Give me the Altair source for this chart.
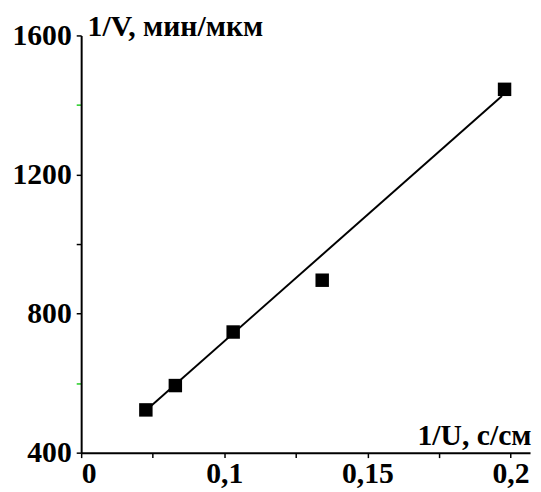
import altair as alt
import pandas as pd

# Data
inv_u = [0.0726, 0.0829, 0.1031, 0.1342, 0.1979]   # 1/U, s/cm
inv_v = [523, 593, 747, 896, 1445]                  # 1/V, min/um
fit_u = [0.0726, 0.197]
fit_v = [521, 1426]
x_ticks = [0.05, 0.075, 0.1, 0.125, 0.15, 0.175, 0.2]
y_ticks = [400, 600, 800, 1000, 1200, 1400, 1600]

pts = pd.DataFrame({"u": inv_u, "v": inv_v})
fit = pd.DataFrame({"u": fit_u, "v": fit_v})

FONT = "Liberation Serif"

xscale = alt.Scale(domain=[0.05, 0.2068], nice=False, zero=False)
yscale = alt.Scale(domain=[400, 1600], nice=False, zero=False)

xaxis = alt.Axis(
    values=x_ticks,
    labelExpr="round(datum.value*1000) == 50 ? '0' : (round(datum.value*1000) % 50 == 0 ? replace(format(datum.value, '.2~f'), '.', ',') : '')",
    labelOverlap=False,
    labelFont=FONT, labelFontSize=30, labelFontWeight="bold", labelColor="black",
    labelPadding=1,
    tickSize=5, tickColor="black", tickWidth=1.5,
    domainColor="black", domainWidth=2,
    grid=False,
    title="1/U, с/см",
    titleFont=FONT, titleFontSize=30, titleFontWeight="bold", titleColor="black",
    titleAngle=0, titleAlign="right", titleBaseline="alphabetic",
    titleX=455, titleY=-8,
)

yaxis = alt.Axis(
    values=y_ticks,
    labelExpr="datum.value % 400 == 0 ? format(datum.value, 'd') : ''",
    labelOverlap=False,
    labelFont=FONT, labelFontSize=30, labelFontWeight="bold", labelColor="black",
    labelPadding=5,
    tickSize=5, tickWidth=1.5,
    tickColor={"condition": {"test": "datum.value == 600 || datum.value == 1400", "value": "#22cc22"}, "value": "black"},
    domainColor="black", domainWidth=2,
    grid=False,
    title="1/V, мин/мкм",
    titleFont=FONT, titleFontSize=30, titleFontWeight="bold", titleColor="black",
    titleAngle=0, titleAlign="left", titleBaseline="alphabetic",
    titleX=6, titleY=0,
)

line = alt.Chart(fit).mark_line(color="black", strokeWidth=2).encode(
    x=alt.X("u:Q", scale=xscale, axis=xaxis),
    y=alt.Y("v:Q", scale=yscale, axis=yaxis),
)

points = alt.Chart(pts).mark_square(color="black", opacity=1, size=185).encode(
    x=alt.X("u:Q", scale=xscale, axis=xaxis),
    y=alt.Y("v:Q", scale=yscale, axis=yaxis),
)

chart = alt.layer(line, points).properties(
    width=454,
    height=422,
    padding={"left": 74, "top": 25, "right": 3, "bottom": 34},
    autosize=alt.AutoSizeParams(type="none"),
    background="white",
).configure_view(stroke=None)

chart.save("out.html", embed_options={"renderer": "svg", "actions": False})
